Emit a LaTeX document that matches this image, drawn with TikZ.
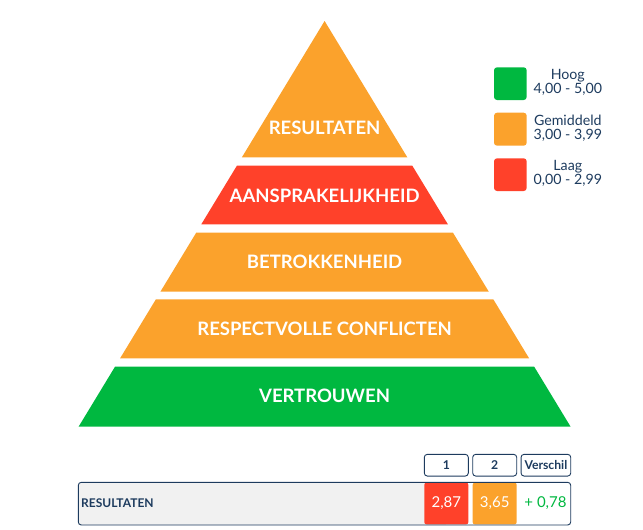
\documentclass[tikz,border=0pt]{standalone}
\usepackage{fontspec}
\setmainfont{Lato}
\usepackage{tikz}
\usetikzlibrary{calc}

\definecolor{oranje}{HTML}{FBA22C}
\definecolor{rood}{HTML}{FF412A}
\definecolor{groen}{HTML}{00B840}
\definecolor{navy}{HTML}{1D3B5E}
\definecolor{grijs}{HTML}{F1F1F1}

\begin{document}
\begin{tikzpicture}[x=1pt, y=-1pt,
        layer_label_style/.style={text=white,font=\fontsize{18.5}{20}\selectfont\bfseries},
        legend_box_style/.style={rounded corners=3pt},
        legend_text_style/.style={text=navy,align=center,font=\fontsize{14.2}{14}\selectfont},
        head_style/.style={draw=navy,fill=white,rounded corners=3pt,line width=0.9pt,inner sep=0pt,
            minimum height=21.7pt,text=navy,font=\fontsize{12.2}{12}\selectfont\bfseries},
        cell_style/.style={rounded corners=2pt,inner sep=0pt,minimum width=44pt,minimum height=41.5pt,
            text=white,font=\fontsize{15}{16}\selectfont}]

        \useasboundingbox (0,0) rectangle (643,530);

        % piramide
        \fill [oranje] (324.6,21) -- (407.3,157.3) -- (241.9,157.3) -- cycle;
        \fill [rood] (236.9,165.7) -- (412.3,165.7) -- (447.9,224.3) -- (201.3,224.3) -- cycle;
        \fill [oranje] (196.2,232.7) -- (453,232.7) -- (488.8,291.7) -- (160.4,291.7) -- cycle;
        \fill [oranje] (155.9,299.3) -- (493.3,299.3) -- (529.1,358.3) -- (120.1,358.3) -- cycle;
        \fill [groen] (115,366.7) -- (534.2,366.7) -- (570.6,426.7) -- (78.6,426.7) -- cycle;

        \node [layer_label_style] (l1) at (324.6,127.7) {RESULTATEN};
        \node [layer_label_style] (l2) at (324.6,195.7) {AANSPRAKELIJKHEID};
        \node [layer_label_style] (l3) at (324.6,262.3) {BETROKKENHEID};
        \node [layer_label_style] (l4) at (324.6,329) {RESPECTVOLLE CONFLICTEN};
        \node [layer_label_style] (l5) at (324.6,395.7) {VERTROUWEN};

        % legenda
        \fill [groen, legend_box_style] (494,67.3) rectangle (526.7,100);
        \fill [oranje, legend_box_style] (494,112.7) rectangle (526.7,145.7);
        \fill [rood, legend_box_style] (494,158.3) rectangle (526.7,191);

        \node [legend_text_style] (hoog) at (567.8,82.5) {Hoog\\4,00 - 5,00};
        \node [legend_text_style] (gem) at (567.8,128.2) {Gemiddeld\\3,00 - 3,99};
        \node [legend_text_style] (laag) at (567.8,173.5) {Laag\\0,00 - 2,99};

        % tabel
        \node [head_style, minimum width=44pt] (h1) at (446.3,465.2) {1};
        \node [head_style, minimum width=44pt] (h2) at (494.7,465.2) {2};
        \node [head_style, minimum width=49.7pt] (h3) at (545.9,465.2) {Verschil};

        \fill [grijs, rounded corners=3pt] (78.3,482.3) rectangle (470,525);
        \fill [white] (446,482.8) rectangle (570.2,524.5);
        \node [cell_style, fill=rood] (c1) at (446.3,503.5) {2,87};
        \node [cell_style, fill=oranje] (c2) at (494.7,503.5) {3,65};
        \node [text=groen, font=\fontsize{15}{16}\selectfont] (c3) at (545.5,503.5) {+ 0,78};
        \draw [navy, line width=0.9pt, rounded corners=3pt] (78.3,482.3) rectangle (570.7,525);
        \node [anchor=west, text=navy, inner sep=0pt, font=\fontsize{12}{12}\selectfont\bfseries] (r1) at (81,503) {RESULTATEN};

\end{tikzpicture}
\end{document}
